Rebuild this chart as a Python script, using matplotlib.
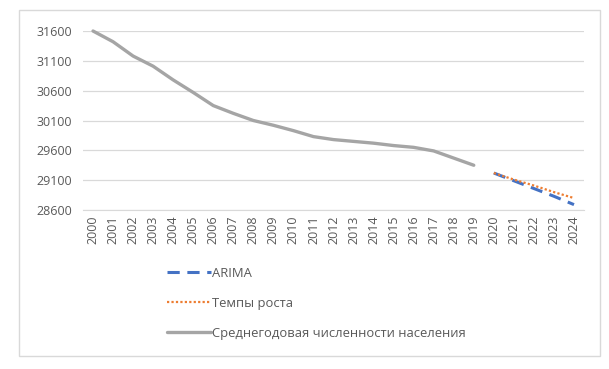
import matplotlib.pyplot as plt
from matplotlib.patches import Rectangle

# Data
years = [str(y) for y in range(2000, 2025)]
population = [31600, 31420, 31180, 31010, 30780, 30570, 30350, 30220, 30100,
              30020, 29930, 29830, 29780, 29750, 29720, 29680, 29650, 29590,
              29470, 29350]
arima = [29220, 29090, 28960, 28830, 28690]
tempy = [29220, 29110, 29010, 28900, 28800]
yticks = [28600, 29100, 29600, 30100, 30600, 31100, 31600]

plt.rcParams['font.family'] = ['Open Sans', 'DejaVu Sans']

fig = plt.figure(figsize=(6.09, 3.69), dpi=100)
ax = fig.add_axes([83 / 609, 1 - 210 / 369, 501 / 609, 179 / 369])

x_all = list(range(len(years)))
x_hist = x_all[:len(population)]
x_fc = x_all[len(population):]

l_arima, = ax.plot(x_fc, arima, color="#4472C4", lw=2.2, ls=(0, (4, 2.5)),
                   label="ARIMA")
l_tempy, = ax.plot(x_fc, tempy, color="#ED7D31", lw=1.6, ls=(0, (1, 1)),
                   label="Темпы роста")
l_pop, = ax.plot(x_hist, population, color="#A5A5A5", lw=2.4,
                 solid_capstyle="round", clip_on=False,
                 label="Среднегодовая численности населения")

ax.set_xlim(-0.5, len(years) - 0.5)
ax.set_ylim(28600, 31600)
ax.set_xticks(x_all)
ax.set_xticklabels(years, rotation=90, fontsize=9, color="#595959")
ax.set_yticks(yticks)
ax.set_yticklabels([str(v) for v in yticks], fontsize=9, color="#595959")
ax.tick_params(length=0, pad=8)
ax.tick_params(axis="x", pad=4)
ax.grid(axis="y", color="#D9D9D9", lw=0.9)
ax.set_axisbelow(True)
for s in ax.spines.values():
    s.set_visible(False)
ax.spines["bottom"].set_visible(True)
ax.spines["bottom"].set_color("#D9D9D9")

fig.legend(handles=[l_arima, l_tempy, l_pop], loc="upper left",
           bbox_to_anchor=(155 / 609, 1 - 255 / 369), frameon=False,
           fontsize=9.4, labelcolor="#595959", handlelength=3.4,
           handletextpad=0.1, labelspacing=1.3)

# Outer chart border
fig.patches.append(Rectangle((19 / 609, 1 - 356 / 369), 581 / 609, 346 / 369,
                             transform=fig.transFigure, fill=False,
                             edgecolor="#D9D9D9", lw=1))

fig.savefig("out.png", dpi=100)
